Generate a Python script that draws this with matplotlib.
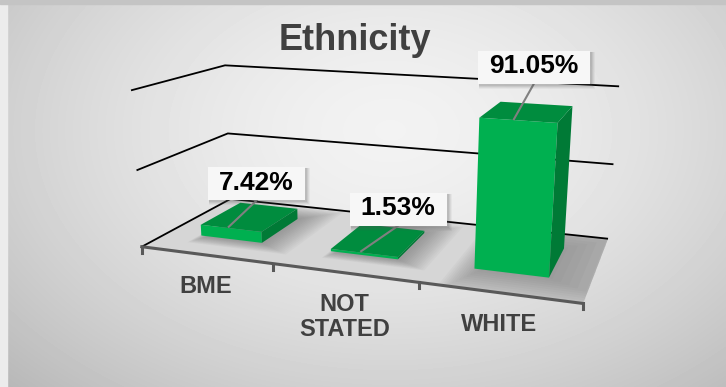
import numpy as np
import matplotlib.pyplot as plt
from matplotlib.patches import Polygon, Rectangle

categories = ['BME', 'NOT\nSTATED', 'WHITE']
shares = [7.42, 1.53, 91.05]
value_grid = [0, 50, 100]
label_offsets = [(28, -44), (37, -43), (20, -53)]   # data label centre, px from leader end

W, H = 726, 387
plt.rcParams['font.family'] = ['Liberation Sans', 'DejaVu Sans']

fig = plt.figure(figsize=(W / 100, H / 100), dpi=100)
ax = fig.add_axes([0, 0, 1, 1])
ax.set_xlim(0, W)
ax.set_ylim(H, 0)
ax.axis('off')

# soft radial background
yy, xx = np.mgrid[0:H, 0:W]
r = np.hypot((xx - 390) / 430.0, (yy - 130) / 290.0)
bg = 0.95 - 0.16 * np.clip(r, 0, 1.4) ** 1.6
ax.imshow(bg, cmap='gray', vmin=0, vmax=1, extent=(0, W, H, 0), zorder=0,
          interpolation='bilinear')
ax.add_patch(Rectangle((0, 0), 7, H, color='#ececec', zorder=0.5))
ax.add_patch(Rectangle((0, 0), W, 4, color='#c4c4c4', zorder=0.5))

# perspective camera fitted to the box corners (x: category, y: depth, z: value)
box_world = np.array([
    [0, 0, 0], [1, 0, 0], [2, 0, 0], [3, 0, 0], [0, 1, 0], [3, 1, 0],
    [0, 0, 50], [0, 1, 50], [3, 1, 50],
    [0, 0, 100], [0, 1, 100], [3, 1, 100]], float)
box_px = np.array([
    [143, 247], [273, 265], [419, 283], [583, 303], [230, 199], [608, 238],
    [136, 169], [228, 133], [614, 164],
    [131, 90], [225, 66], [619, 87]], float)


def fit_camera(world, px):
    rows = []
    for (X, Y, Z), (u, v) in zip(world, px / 400.0):
        p = [X, Y, Z / 100.0, 1.0]
        rows.append(p + [0.0] * 4 + [-u * c for c in p])
        rows.append([0.0] * 4 + p + [-v * c for c in p])
    _, _, vt = np.linalg.svd(np.array(rows))
    return vt[-1].reshape(3, 4)


P = fit_camera(box_world, box_px)


def proj(x, y, z):
    h = P @ np.array([x, y, z / 100.0, 1.0])
    return 400.0 * h[0] / h[2], 400.0 * h[1] / h[2]


def face(pts, **kw):
    patch = Polygon([proj(*p) for p in pts], closed=True, **kw)
    ax.add_patch(patch)
    return patch


# floor
floor = face([(0, 0, 0), (3, 0, 0), (3, 1, 0), (0, 1, 0)], facecolor='#d6d6d6',
             edgecolor='none', zorder=1)

gap, d0, d1 = 0.26, 0.28, 0.75

# soft bar shadows, kept on the floor
for i, v in enumerate(shares):
    x0, x1 = i + gap, i + 1 - gap
    k = 0.6 + v / 60.0
    for s in np.linspace(0.02, 0.3 * k, 14):
        sh = face([(x0 - s * 0.3 + 0.05, d0 - s * 0.6, 0), (x1 + s * 1.2, d0 - s * 0.6, 0),
                   (x1 + s * 1.2, d1 + s, 0), (x0 - s * 0.3 + 0.05, d1 + s, 0)],
                  facecolor='#606060', alpha=0.045, edgecolor='none', zorder=1.2)
        sh.set_clip_path(floor)

# gridlines on the side and back walls
for z in value_grid:
    pts = [proj(0, 0, z), proj(0, 1, z), proj(3, 1, z)]
    ax.plot(*zip(*pts), color='black', lw=1.3, zorder=2, solid_capstyle='butt')

# category axis along the front edge
front = [proj(0, 0, 0), proj(3, 0, 0)]
ax.plot(*zip(*front), color='#595959', lw=2.2, zorder=2.5)
for i in range(len(categories) + 1):
    px, py = proj(i, 0, 0)
    ax.plot([px, px], [py, py + 6], color='#595959', lw=2.2, zorder=2.5)

for i, name in enumerate(categories):
    px, py = proj(i + 0.5, 0, 0)
    ax.text(px, py + 20, name, ha='center', va='top', fontsize=17,
            fontweight='bold', color='#404040', linespacing=1.15, zorder=3)

# 3d bars
anchors = []
for i, v in enumerate(shares):
    x0, x1 = i + gap, i + 1 - gap
    face([(x0, d0, 0), (x1, d0, 0), (x1, d0, v), (x0, d0, v)],
         facecolor='#00b050', edgecolor='none', zorder=4)
    face([(x1, d0, 0), (x1, d1, 0), (x1, d1, v), (x1, d0, v)],
         facecolor='#007a36', edgecolor='none', zorder=4)
    face([(x0, d0, v), (x1, d0, v), (x1, d1, v), (x0, d1, v)],
         facecolor='#008c3e', edgecolor='none', zorder=4)
    anchors.append(proj(i + 0.47, d0 + 0.02, v))

ax.text(355, 50, 'Ethnicity', ha='center', va='baseline', fontsize=26,
        fontweight='bold', color='#404040', zorder=5)

# data labels in boxes with leader lines
labels = []
for (tx, ty), (dx, dy), v in zip(anchors, label_offsets, shares):
    t = ax.text(tx + dx, ty + dy, f'{v:.2f}%', ha='center', va='center',
                fontsize=19, fontweight='bold', color='black', zorder=8)
    labels.append(t)

fig.canvas.draw()
inv = ax.transData.inverted()
for t, (tx, ty) in zip(labels, anchors):
    bb = t.get_window_extent()
    (ax0, ay0), (ax1, ay1) = inv.transform([[bb.x0, bb.y0], [bb.x1, bb.y1]])
    cx = (ax0 + ax1) / 2
    cy = t.get_position()[1]
    bw, bh = (ax1 - ax0) + 22, 33
    left, top = cx - bw / 2, cy - bh / 2 + 1
    for k, a in zip(range(4, 0, -1), [0.06, 0.08, 0.1, 0.12]):
        ax.add_patch(Rectangle((left + 1, top + 1), bw + k, bh + k,
                               color='#555555', alpha=a, lw=0, zorder=6))
    ax.add_patch(Rectangle((left, top), bw, bh, facecolor='#f7f7f7',
                           edgecolor='none', zorder=7))
    ax.plot([cx, tx], [top + bh, ty], color='#808080', lw=1.5, zorder=5)

fig.savefig('out.png', dpi=100)
